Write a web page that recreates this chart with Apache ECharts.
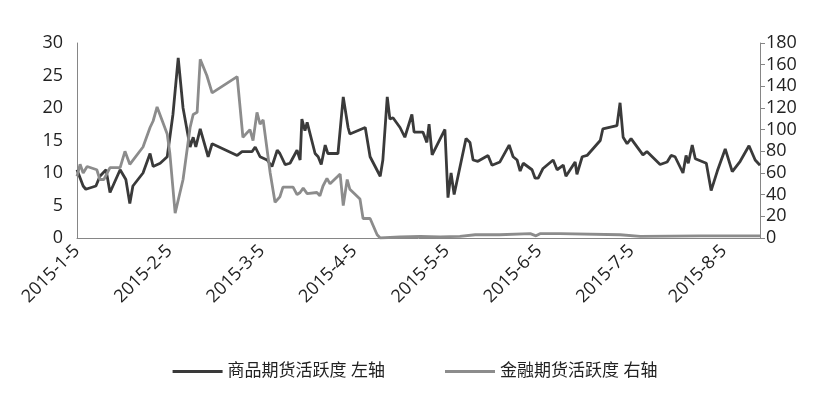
<!DOCTYPE html>
<html><head><meta charset="utf-8">
<script src="https://cdn.jsdelivr.net/npm/echarts@6/dist/echarts.min.js"></script>
<style>html,body{margin:0;padding:0;background:#fff}#c{width:830px;height:403px}</style>
</head><body><div id="c"></div>
<script>
const tickLabels = ['2015-1-5','2015-2-5','2015-3-5','2015-4-5','2015-5-5','2015-6-5','2015-7-5','2015-8-5'];
const comDays = [0,1.4,2,4.3,5.2,6.6,7.5,9.8,11.1,12,12.7,15,16.6,17.3,18.9,20.5,21.8,23,24.1,25.7,26.4,27,28,29.8,30.7,36.4,37.5,39.8,40.5,41.6,43.2,44.3,45.5,46.1,47.3,48.4,50,50.7,51.1,51.8,52.3,54.1,54.8,55.5,56.4,57,59.3,60.5,61.6,62,65.5,66.6,68.9,69.5,70.5,71.1,71.8,73.4,74.5,76.1,76.6,78.6,79.5,80,80.7,83.6,84.3,85,85.7,88.4,89.3,90,91.1,93.4,94.3,96.1,98.2,99.1,100,100.7,101.4,103.4,104.1,104.8,105.9,108.2,109.1,109.5,110.5,111.1,113.2,113.6,114.8,115.9,118.9,119.5,122.7,123.4,124.1,125,125.9,128.6,129.5,132.5,134.1,135,135.9,137.7,138.4,138.9,139.8,140.5,143,143.2,144.1,145.5,147.3,148.9,150.7,152.7,154.1,155.2];
const comVals = [10.5,8,7.5,8,9.5,10.5,7,10.5,9,5.3,8,10,13,11,11.5,12.5,19,27.7,20,14,15.5,14,16.8,12.5,14.5,12.7,13.3,13.3,14,12.5,12,11,13.5,13,11.3,11.5,13.5,12,18.3,16.5,17.8,13,12.5,11.3,14.3,13,13,21.7,17,16,17,12.5,9.5,12,21.7,18.3,18.5,17,15.5,19,16.3,16.3,14.7,17.5,12.8,16.7,6.2,10,6.7,15.3,14.7,12,11.8,12.7,11.2,11.7,14.3,12.5,12,10.3,11.5,10.5,9.2,9.2,10.7,12,10.5,10.2,11.2,9.5,11.7,9.8,12.5,12.7,15,16.8,17.3,20.8,15.5,14.5,15.3,12.8,13.3,11.3,11.7,12.7,12.5,10,12.7,11.5,14.3,12.2,11.5,11.8,7.3,10.3,13.7,10.2,11.8,14.2,12,11.2];
const finDays = [0,0.7,1.4,2.3,4.5,5.2,6.1,7.5,9.8,10.9,12,15,16.6,17.3,18.2,20.5,21.1,22.3,24.1,25.7,26.4,27.3,28,29.5,30.7,36.4,37.7,39.3,40,40.9,41.6,42.3,43.9,45,46.1,46.8,49.1,50,50.7,51.4,52.3,54.5,55.2,55.9,56.8,57.5,59.8,60.5,61.4,62,64.3,65,66.6,68.2,68.9,73.4,78,82.5,87,90.5,96,103,104.3,105.2,109.8,123.4,128,141.6,146,155.2];
const finVals = [57,68,60,66,63,54,54,65,65,80,68,84,102,108,121,96,78,23,54,102,114,116,165,150,134,149,93,100,90,116,105,109,60,33,38,47,47,40,42,46,41,42,39,48,55,50,59,30,54,45,36,18,18,3,0,1,1.5,1,1.5,3,3,4,2,4,4,3,1.5,2,2,2];
const names = ['商品期货活跃度 左轴','金融期货活跃度 右轴'];
const pair = (d,v)=>d.map((x,i)=>[x,v[i]]);
const font = "'Open Sans','Noto Sans CJK SC',sans-serif";
const axLine = {show:true,lineStyle:{color:'#868686',width:1}};
const chart = echarts.init(document.getElementById('c'));
chart.setOption({
  animation:false,
  textStyle:{fontFamily:font},
  grid:{left:77,right:70,top:43,bottom:165,containLabel:false},
  legend:{bottom:18,left:'center',itemGap:60,itemWidth:50,itemHeight:3,icon:'rect',
    textStyle:{fontSize:17,color:'#222',fontFamily:font},data:names},
  xAxis:{type:'value',min:0,max:155.2,interval:21,splitLine:{show:false},axisLine:axLine,axisTick:{show:false},
    axisLabel:{rotate:45,fontSize:18,color:'#222',margin:10,showMaxLabel:false,
      formatter:v=>tickLabels[Math.round(v/21)]||''}},
  yAxis:[
    {type:'value',min:0,max:30,interval:5,splitLine:{show:false},axisLine:axLine,axisTick:{show:false},
      axisLabel:{fontSize:18,color:'#222',margin:14}},
    {type:'value',min:0,max:180,interval:20,position:'right',splitLine:{show:false},axisLine:axLine,
      axisTick:{show:true,length:5,lineStyle:{color:'#868686'}},axisLabel:{fontSize:18,color:'#222',margin:6}}
  ],
  series:[
    {name:names[0],type:'line',yAxisIndex:0,data:pair(comDays,comVals),symbol:'none',lineStyle:{color:'#3a3a3a',width:2.8},itemStyle:{color:'#3a3a3a'}},
    {name:names[1],type:'line',yAxisIndex:1,data:pair(finDays,finVals),symbol:'none',lineStyle:{color:'#8c8c8c',width:2.8},itemStyle:{color:'#8c8c8c'}}
  ]
});
</script></body></html>
